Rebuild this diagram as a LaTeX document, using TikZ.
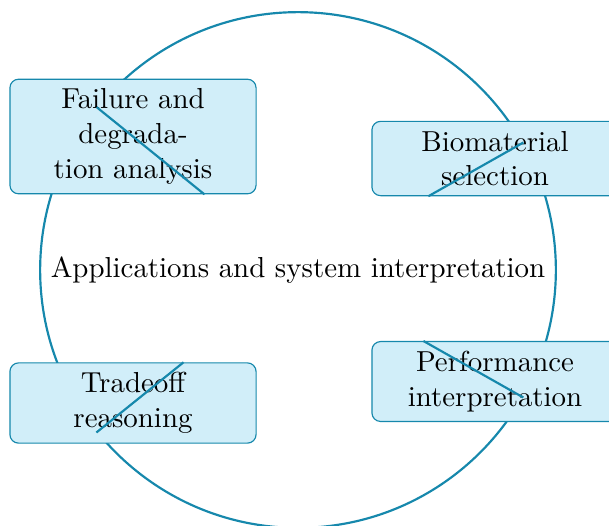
\documentclass[tikz,border=0pt]{standalone}
\definecolor{hubline}{RGB}{22,136,172}
\definecolor{boxfill}{RGB}{209,238,249}

\tikzset{every picture/.style={line width=0.75pt}}
\tikzset{appbox/.style={rectangle, rounded corners=3pt, draw=hubline, line width=0.4pt, fill=boxfill, text width=78.5pt, align=center}}
\tikzset{hublink/.style={draw=hubline, line width=0.75pt}}

\begin{document}
\begin{tikzpicture}[x=0.346pt,y=0.346pt,yscale=-1,xscale=1]
%set diagram at 609 x 525
\useasboundingbox (0,0) rectangle (609,525);

%Hub circle
\node [circle, draw=hubline] (hub) at (298,270) {Applications and system interpretation};

%Boxes
\node [appbox] (fail) at (133,136.5) {Failure and\\degrada-\\tion analysis};
\node [appbox] (bio) at (495,158.5) {Biomaterial\\selection};
\node [appbox] (trade) at (133,403) {Tradeoff\\reasoning};
\node [appbox] (perf) at (495,381.5) {Performance\\interpretation};

%Links
\draw [hublink] (hub) -- (fail);
\draw [hublink] (hub) -- (bio);
\draw [hublink] (hub) -- (trade);
\draw [hublink] (hub) -- (perf);

\end{tikzpicture}
\end{document}
